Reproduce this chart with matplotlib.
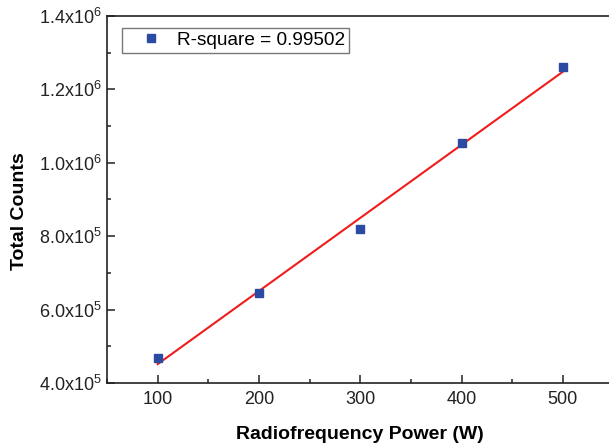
import matplotlib
matplotlib.use("Agg")
import matplotlib.pyplot as plt
import numpy as np
from matplotlib.ticker import FuncFormatter, MultipleLocator

plt.rcParams['font.family'] = ['Liberation Sans', 'DejaVu Sans']

power = [100, 200, 300, 400, 500]
counts = [4.69e5, 6.45e5, 8.20e5, 1.055e6, 1.26e6]
r_square_label = "R-square = 0.99502"

# linear fit of the points
slope, intercept = np.polyfit(power, counts, 1)
fit_x = np.array([power[0], power[-1]])
fit_y = slope * fit_x + intercept


def sci_label(v, pos):
    exp = int(np.floor(np.log10(v)))
    mant = v / 10 ** exp
    return r"$\mathregular{%.1fx10^{%d}}$" % (mant, exp)


fig = plt.figure(figsize=(6.09, 4.48), dpi=100)
ax = fig.add_axes([0.1757, 0.1451, 0.8317, 0.8192])

ax.plot(power, counts, 's', color='#2b4ba3', markersize=6,
        label=r_square_label, zorder=3)
ax.plot(fit_x, fit_y, '-', color='#f01c1c', linewidth=1.5, zorder=2)

ax.set_xlim(50, 550)
ax.set_ylim(4e5, 1.4e6)
ax.xaxis.set_major_locator(MultipleLocator(100))
ax.xaxis.set_minor_locator(MultipleLocator(50))
ax.yaxis.set_major_locator(MultipleLocator(2e5))
ax.yaxis.set_minor_locator(MultipleLocator(1e5))
ax.yaxis.set_major_formatter(FuncFormatter(sci_label))

ax.tick_params(which='both', direction='in', top=False, right=False,
               labelsize=13, colors='#222222', width=1.1)
ax.tick_params(which='major', length=6)
ax.tick_params(which='minor', length=3)
ax.tick_params(axis='x', pad=6)
ax.tick_params(axis='y', pad=4)
for s in ax.spines.values():
    s.set_linewidth(1.2)
    s.set_color('#222222')

ax.set_xlabel("Radiofrequency Power (W)", fontsize=14, fontweight='bold')
ax.set_ylabel("Total Counts", fontsize=14, fontweight='bold')
ax.xaxis.set_label_coords(0.5, -0.117)
ax.yaxis.set_label_coords(-0.155, 0.469)

leg = ax.legend(loc='upper left', bbox_to_anchor=(0.03, 0.968), fontsize=13.7,
                frameon=True, fancybox=False, edgecolor='#555555',
                handletextpad=0.1, borderpad=0.2, handlelength=2.6,
                borderaxespad=0)
leg.get_frame().set_linewidth(1.0)

fig.savefig("out.png", dpi=100)
